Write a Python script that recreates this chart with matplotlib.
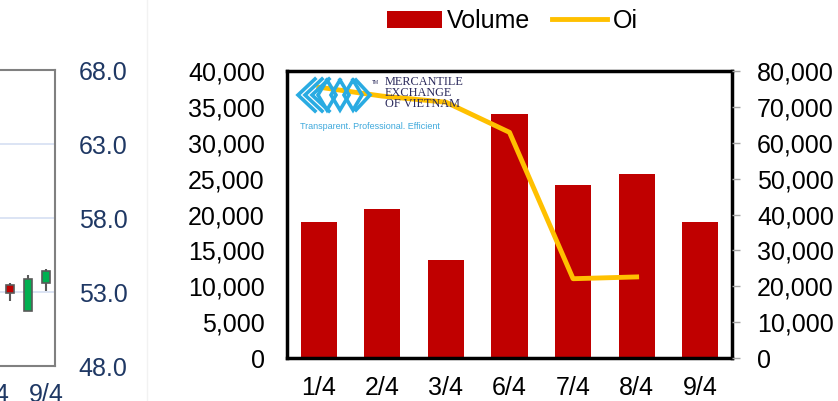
import numpy as np
import matplotlib
matplotlib.use('Agg')
from matplotlib import pyplot as plt
from matplotlib.patches import Patch
from matplotlib.lines import Line2D
from matplotlib.ticker import FuncFormatter

plt.rcParams['font.family'] = ['Liberation Sans', 'DejaVu Sans']

# left panel (price candles, only the last ones are visible)
candle_idx = [0, 1, 2]
c_open = [53.5, 51.7, 53.6]
c_close = [52.9, 53.9, 54.4]
c_high = [53.6, 54.15, 54.55]
c_low = [52.4, 51.7, 53.1]
price_ticks = [48, 53, 58, 63, 68]
price_xtick_pos = [-1, 2]
price_xtick_lab = ['6/4', '9/4']

# right panel
dates = ['1/4', '2/4', '3/4', '6/4', '7/4', '8/4', '9/4']
volume = [19000, 20700, 13600, 34000, 24100, 25600, 19000]
oi = [75500, 73000, 71300, 62900, 22100, 22600]

navy = '#1F3864'
W, H = 838, 401
fig = plt.figure(figsize=(W / 100, H / 100), dpi=100)

# ---- left candle chart (cropped) ----
ax0 = fig.add_axes([-100 / W, 35 / H, 155 / W, 296 / H])
ax0.set_xlim(-6.11, 2.5)
ax0.set_ylim(48, 68)
for yv in price_ticks[1:-1]:
    ax0.axhline(yv, color='#D9E2F3', lw=1.3, zorder=0)
ax0.vlines(candle_idx, c_low, c_high, color='#595959', lw=1.5, zorder=2)
body_b = [min(o, c) for o, c in zip(c_open, c_close)]
body_h = [abs(c - o) for o, c in zip(c_open, c_close)]
body_c = ['#00B050' if c >= o else '#C00000' for o, c in zip(c_open, c_close)]
ax0.bar(candle_idx, body_h, bottom=body_b, width=0.45, color=body_c,
        edgecolor='#595959', lw=1.2, zorder=3)
for s in ax0.spines.values():
    s.set_color('#808080')
    s.set_linewidth(1.5)
ax0.yaxis.tick_right()
ax0.set_yticks(price_ticks)
ax0.set_yticklabels(['%.1f' % v for v in price_ticks])
ax0.set_xticks(price_xtick_pos)
ax0.set_xticklabels(price_xtick_lab)
ax0.tick_params(axis='y', length=0, pad=17, labelsize=18, labelcolor=navy)
ax0.tick_params(axis='x', length=0, pad=12, labelsize=18, labelcolor=navy)

# separator
fig.add_artist(Line2D([147 / W, 147 / W], [0, 1], color='#F2F2F2', lw=1))

# ---- right volume / oi chart ----
ax = fig.add_axes([287 / W, 43 / H, 445 / W, 287 / H])
x = np.arange(len(dates))
ax.bar(x, volume, width=0.57, color='#C00000', zorder=2)
ax.set_xlim(-0.5, len(dates) - 0.5)
ax.set_ylim(0, 40000)
ax.set_yticks(np.arange(0, 40001, 5000))
ax.yaxis.set_major_formatter(FuncFormatter(lambda v, p: '{:,.0f}'.format(v)))
ax.set_xticks(x)
ax.set_xticklabels(dates)
ax.tick_params(axis='y', length=0, pad=16, labelsize=18)
ax.tick_params(axis='x', length=0, pad=13, labelsize=18)
for s in ax.spines.values():
    s.set_color('black')
    s.set_linewidth(2.5)

ax2 = ax.twinx()
ax2.plot(x[:len(oi)], oi, color='#FFC000', lw=3.5, zorder=5)
ax2.set_ylim(0, 80000)
ax2.set_yticks(np.arange(0, 80001, 10000))
ax2.yaxis.set_major_formatter(FuncFormatter(lambda v, p: '{:,.0f}'.format(v)))
ax2.tick_params(axis='y', length=6, width=1, color='#A6A6A6', pad=12, labelsize=18)
for s in ax2.spines.values():
    s.set_visible(False)

# logo (drawn in figure pixels)
def logo_line(xs, ys):
    fig.add_artist(Line2D([a / W for a in xs], [1 - b / H for b in ys],
                          color='#29ABE2', lw=2.6, zorder=1, solid_joinstyle='miter'))

for dx in [0, 7, 14]:
    logo_line([315 + dx, 298 + dx, 315 + dx], [79, 95, 111])
for dx in [0, 13, 26]:
    logo_line([327 + dx, 318 + dx, 327 + dx, 336 + dx, 327 + dx],
              [80, 95, 110, 95, 80])
logo_line([356, 370, 356], [80, 95, 110])
fig.text(385 / W, 1 - 76 / H, 'MERCANTILE\nEXCHANGE\nOF VIETNAM', family='Liberation Serif',
         fontsize=8.8, color='#2B2A5C', va='top', ha='left', linespacing=0.9)
fig.text(372 / W, 1 - 80 / H, 'TM', fontsize=3.5, color='#2B2A5C', va='top')
fig.text(300 / W, 1 - 127 / H, 'Transparent. Professional. Efficient', fontsize=6.5,
         color='#3FA9DC', va='center', ha='left')

# legend
handles = [Patch(facecolor='#C00000'), Line2D([0], [0], color='#FFC000', lw=3.5)]
fig.legend(handles, ['Volume', 'Oi'], loc='center', bbox_to_anchor=(512 / W, 1 - 21 / H),
           ncol=2, frameon=False, fontsize=18, handlelength=2.2, handletextpad=0.2,
           columnspacing=0.9, borderpad=0, handleheight=0.65)

fig.savefig('out.png', dpi=100)
